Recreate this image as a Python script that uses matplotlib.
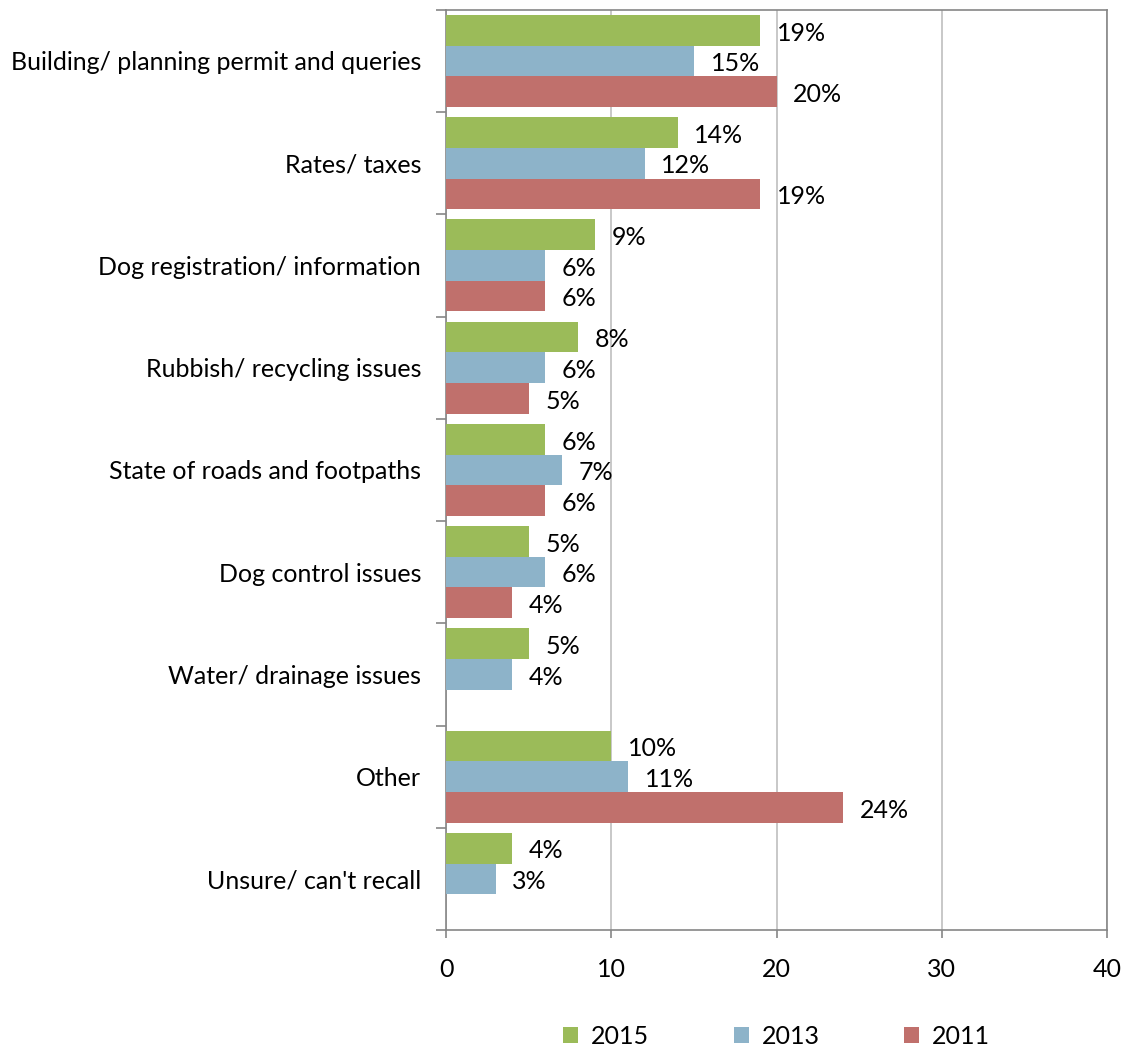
import matplotlib.pyplot as plt
import numpy as np

categories = [
    'Building/ planning permit and queries',
    'Rates/ taxes',
    'Dog registration/ information',
    'Rubbish/ recycling issues',
    'State of roads and footpaths',
    'Dog control issues',
    'Water/ drainage issues',
    'Other',
    "Unsure/ can't recall",
]
years = ['2015', '2013', '2011']
v2015 = [19, 14, 9, 8, 6, 5, 5, 10, 4]
v2013 = [15, 12, 6, 6, 7, 6, 4, 11, 3]
v2011 = [20, 19, 6, 5, 6, 4, np.nan, 24, np.nan]
colors = ['#9BBB59', '#8DB3C9', '#C0706C']

plt.rcParams['font.family'] = ['Lato', 'DejaVu Sans']
fs = 18

fig = plt.figure(figsize=(11.24, 10.48), dpi=100)
ax = fig.add_axes([0.397, 0.1126, 0.588, 0.878])

n = len(categories)
y = np.arange(n)
h = 0.3
series = [v2015, v2013, v2011]
for i, (vals, col, yr) in enumerate(zip(series, colors, years)):
    pos = y + (i - 1) * h
    ax.barh(pos, vals, height=h, color=col, label=yr, zorder=3)
    for p, v in zip(pos, vals):
        if np.isnan(v):
            continue
        ax.annotate(f'{v:.0f}%', (v, p), xytext=(12, -2), textcoords='offset points',
                    ha='left', va='center', fontsize=fs)

ax.set_ylim(n - 0.5, -0.5)
ax.set_xlim(0, 40)
ax.set_xticks([0, 10, 20, 30, 40])
ax.set_yticks(y)
ax.set_yticklabels(categories)
ax.set_yticks(np.arange(n + 1) - 0.5, minor=True)
ax.tick_params(axis='y', which='major', length=0, pad=18, labelsize=fs)
ax.tick_params(axis='y', which='minor', length=7, width=1.2, color='#868686')
ax.tick_params(axis='x', length=6, width=1.2, color='#868686', pad=14, labelsize=fs)
ax.grid(axis='x', color='#BFBFBF', linewidth=1.2, zorder=0)
for s in ax.spines.values():
    s.set_color('#868686')
    s.set_linewidth(1.2)

ax.legend(loc='center', bbox_to_anchor=(0.5, -0.116), ncol=3, frameon=False,
          fontsize=fs, handlelength=0.6, handleheight=0.6, columnspacing=3.4,
          handletextpad=0.5)

fig.savefig('out.png', dpi=100)
